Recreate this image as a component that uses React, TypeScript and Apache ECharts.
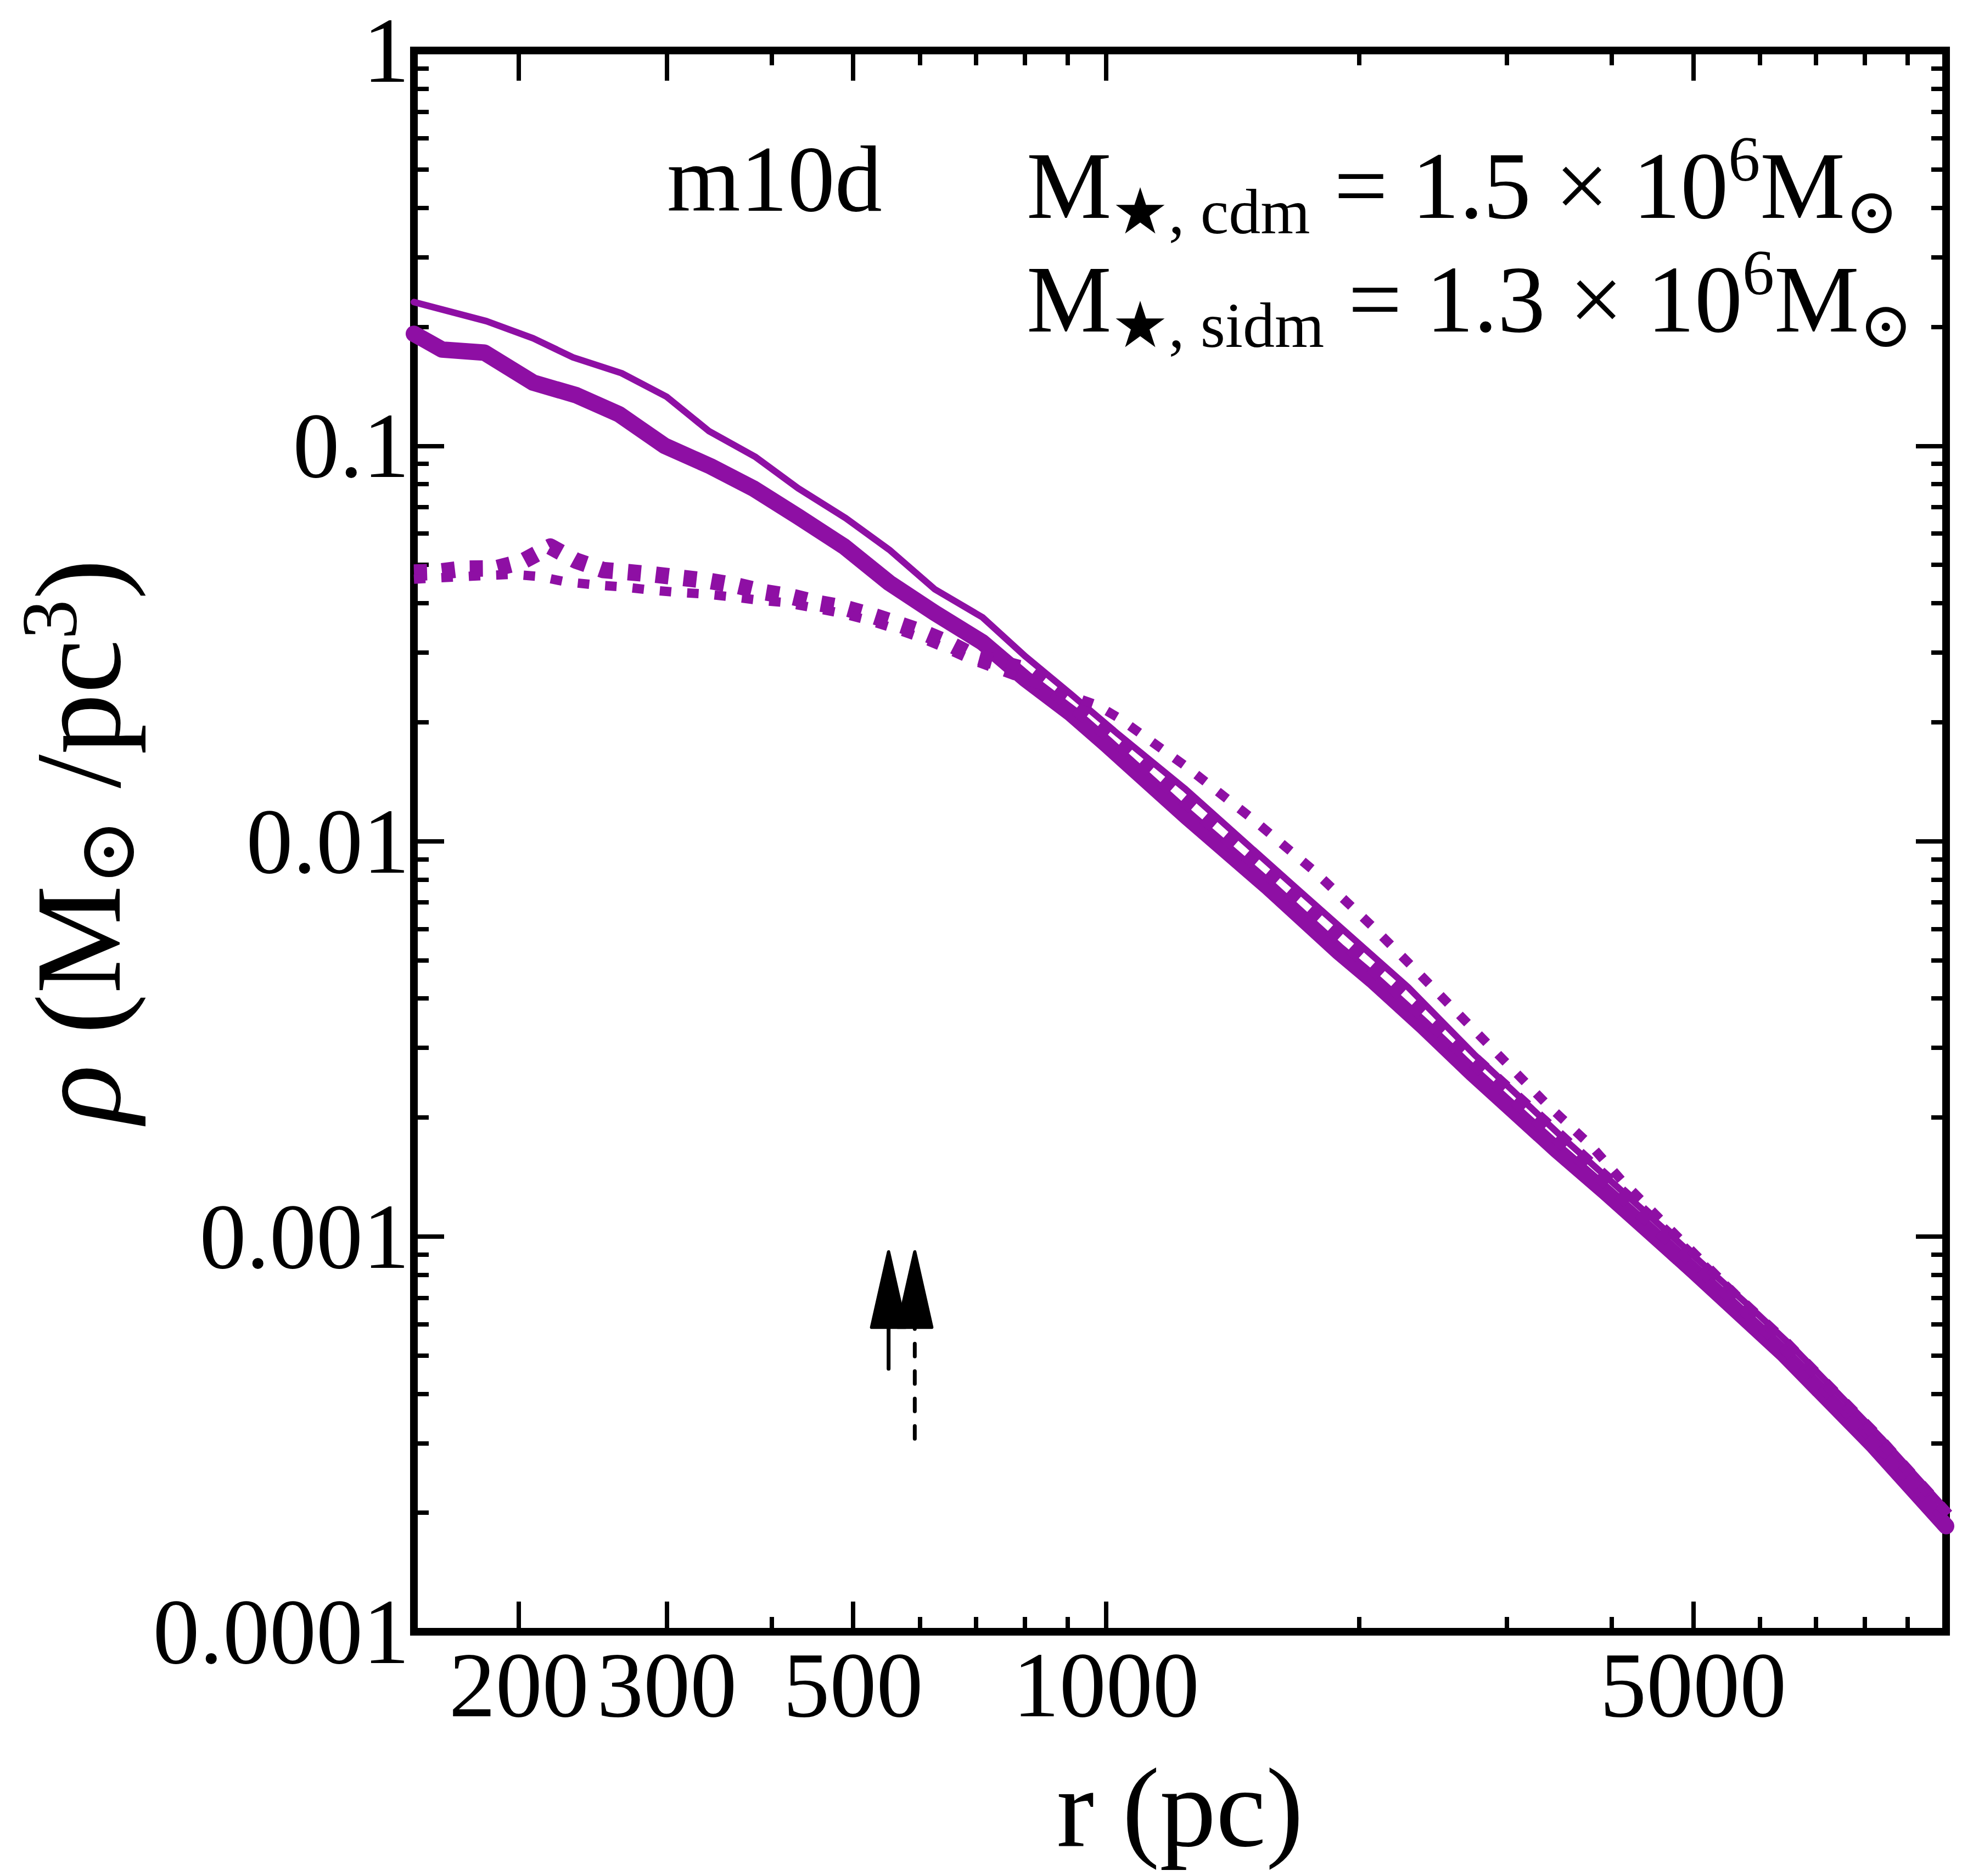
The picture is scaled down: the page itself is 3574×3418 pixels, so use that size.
import React, { useEffect, useRef } from "react";
import * as echarts from "echarts";

const PURPLE = "#8E0FA4";
const FONT = "'Liberation Serif', 'DejaVu Serif', serif";

// ---- data ----
// thin solid
const thinSolidR = [150, 183, 208, 232, 265, 300, 337, 382, 430, 490, 552, 625, 713, 802, 909, 1029, 1240, 1685, 2289, 2742, 3500, 4400, 5807, 6607, 8413, 10000];
const thinSolidRho = [0.231, 0.2067, 0.187, 0.1674, 0.1527, 0.133, 0.1088, 0.0939, 0.0781, 0.0656, 0.0546, 0.0434, 0.0368, 0.0293, 0.0235, 0.0188, 0.0136, 0.0076, 0.00427, 0.00289, 0.001775, 0.001145, 0.000672, 0.000519, 0.000306, 0.000204];
// thick solid
const thickSolidR = [150, 162, 182, 208, 234, 263, 298, 338, 380, 430, 488, 552, 625, 713, 802, 909, 1000, 1249, 1560, 1890, 2075, 2385, 2727, 3437, 3929, 4422, 5004, 6408, 8204, 10000];
const thickSolidRho = [0.192, 0.1752, 0.1721, 0.1445, 0.1343, 0.1203, 0.1001, 0.0888, 0.0781, 0.0662, 0.0556, 0.045, 0.0378, 0.0318, 0.0257, 0.021, 0.0176, 0.0115, 0.00764, 0.00526, 0.00445, 0.0034, 0.00259, 0.001657, 0.001296, 0.001036, 0.000818, 0.000504, 0.000295, 0.000185];
// thin dotted
const thinDotR = [150, 169, 183, 197, 212, 227, 246, 265, 286, 308, 332, 358, 386, 416, 449, 481, 519, 555, 599, 641, 687, 806, 975, 1039, 1245, 1484, 1764, 2073, 2307, 2698, 3333, 3785, 4117, 4855, 6000, 7500, 10000];
const thinDotRho = [0.046, 0.0466, 0.047, 0.0473, 0.0467, 0.0453, 0.0445, 0.044, 0.0432, 0.0426, 0.0422, 0.0415, 0.0407, 0.0401, 0.0389, 0.0378, 0.0363, 0.0347, 0.0328, 0.0309, 0.0289, 0.0255, 0.0221, 0.0204, 0.01545, 0.01151, 0.00845, 0.0061, 0.00485, 0.00345, 0.00218, 0.00169, 0.00138, 0.00097, 0.00062, 0.000385, 0.0002];
// thick dotted
const thickDotR = [150, 160, 172, 188, 202, 218, 234, 252, 270, 291, 314, 338, 365, 393, 423, 454, 489, 527, 564, 604, 647, 693, 813, 1055, 1385, 1700, 2075, 2727, 3437, 4422, 5004, 6408, 8204, 10000];
const thickDotRho = [0.0478, 0.048, 0.0489, 0.049, 0.051, 0.0556, 0.0512, 0.0485, 0.0479, 0.0472, 0.0463, 0.0455, 0.0442, 0.0426, 0.0415, 0.04, 0.0389, 0.0372, 0.0355, 0.0338, 0.0318, 0.0295, 0.0269, 0.0173, 0.0104, 0.0071, 0.00483, 0.00281, 0.0018, 0.00111, 0.00087, 0.000534, 0.000312, 0.000196];

// arrows
const arrowR = [551, 592];
const arrowTipRho = 0.000914;
const arrowHeadBaseRho = 0.000589;
const arrowTailRho = [0.000457, 0.000304];

// axes
const xMin = 150;
const xMax = 10000;
const yMin = 0.0001;
const yMax = 1;
const xMajorTicks = [200, 300, 500, 1000, 5000];
const xTickLabels = ["200", "300", "500", "1000", "5000"];
const xMinorTicks = [400, 600, 700, 800, 900, 2000, 3000, 4000, 6000, 7000, 8000, 9000];
const yMajorTicks = [0.0001, 0.001, 0.01, 0.1, 1];
const yTickLabels = ["0.0001", "0.001", "0.01", "0.1", "1"];
const yMinorTicks = [
  0.0002, 0.0003, 0.0004, 0.0005, 0.0006, 0.0007, 0.0008, 0.0009,
  0.002, 0.003, 0.004, 0.005, 0.006, 0.007, 0.008, 0.009,
  0.02, 0.03, 0.04, 0.05, 0.06, 0.07, 0.08, 0.09,
  0.2, 0.3, 0.4, 0.5, 0.6, 0.7, 0.8, 0.9,
];

const galaxyName = "m10d";
const massLineCdm = "{m|M}{s|★, cdm}{m| = 1.5 × 10}{p|6}{m|M}{s|⊙}";
const massLineSidm = "{m|M}{s|★, sidm}{m| = 1.3 × 10}{p|6}{m|M}{s|⊙}";

const lg = Math.log10;

function labelFor(v: number, ticks: number[], labels: string[]) {
  for (let i = 0; i < ticks.length; i++) {
    if (Math.abs(lg(ticks[i]) - v) < 1e-6) return labels[i];
  }
  return "";
}

function zip(xs: number[], ys: number[]) {
  return xs.map((x, i) => [x, ys[i]]);
}

const massRich = {
  m: { fontFamily: FONT, fontSize: 174, fill: "#000", lineHeight: 212 },
  s: { fontFamily: FONT, fontSize: 116, fill: "#000", lineHeight: 112, verticalAlign: "bottom" },
  p: { fontFamily: FONT, fontSize: 116, fill: "#000", lineHeight: 116, verticalAlign: "top" },
};

export default function App() {
  const ref = useRef<HTMLDivElement>(null);
  useEffect(() => {
    document.body.style.margin = "0";
    const chart = echarts.init(ref.current!, null, { renderer: "svg" });

    const mkX = (position: string, ticks: number[], len: number, labels: boolean) => ({
      type: "value",
      min: lg(xMin),
      max: lg(xMax),
      position,
      axisLine: { show: false, onZero: false },
      splitLine: { show: false },
      axisTick: {
        show: true,
        inside: true,
        length: len,
        lineStyle: { color: "#000", width: 8 },
        customValues: ticks.map(lg),
      },
      axisLabel: labels
        ? {
            show: true,
            customValues: ticks.map(lg),
            formatter: (v: number) => labelFor(v, xMajorTicks, xTickLabels),
            fontFamily: FONT,
            fontSize: 170,
            color: "#000",
            margin: 12,
          }
        : { show: false },
      ...(labels
        ? {
            name: "r (pc)",
            nameLocation: "middle",
            nameGap: 218,
            nameTextStyle: { fontFamily: FONT, fontSize: 205, color: "#000" },
          }
        : {}),
    });

    const mkY = (position: string, ticks: number[], len: number, labels: boolean) => ({
      type: "value",
      min: lg(yMin),
      max: lg(yMax),
      position,
      axisLine: { show: false, onZero: false },
      splitLine: { show: false },
      axisTick: {
        show: true,
        inside: true,
        length: len,
        lineStyle: { color: "#000", width: 8 },
        customValues: ticks.map(lg),
      },
      axisLabel: labels
        ? {
            show: true,
            customValues: ticks.map(lg),
            formatter: (v: number) => labelFor(v, yMajorTicks, yTickLabels),
            fontFamily: FONT,
            fontSize: 170,
            lineHeight: 140,
            color: "#000",
            margin: 8,
            padding: [20, 0, 0, 0],
          }
        : { show: false },
      ...(labels
        ? {
            name: "{i|ρ} (M{s|⊙} /pc{p|3})",
            nameLocation: "middle",
            nameGap: 452,
            nameTextStyle: {
              fontFamily: FONT,
              fontSize: 222,
              color: "#000",
              lineHeight: 250,
              rich: {
                i: { fontFamily: FONT, fontSize: 222, fontStyle: "italic", color: "#000", lineHeight: 250 },
                s: { fontFamily: FONT, fontSize: 145, color: "#000", verticalAlign: "bottom", lineHeight: 140 },
                p: { fontFamily: FONT, fontSize: 145, color: "#000", verticalAlign: "top", lineHeight: 145 },
              },
            },
          }
        : {}),
    });

    const lineSeries = (
      r: number[],
      rho: number[],
      width: number,
      type: any,
      z: number,
      cap = "butt"
    ) => ({
      type: "line",
      xAxisIndex: 0,
      yAxisIndex: 0,
      data: zip(r, rho),
      showSymbol: false,
      symbol: "none",
      smooth: false,
      silent: true,
      z,
      lineStyle: { color: PURPLE, width, type, cap, join: "round" },
    });

    const option: any = {
      animation: false,
      backgroundColor: "#fff",
      grid: {
        left: 754,
        right: 29,
        top: 92,
        bottom: 445,
        show: true,
        borderColor: "#000",
        borderWidth: 14,
        backgroundColor: "transparent",
        containLabel: false,
        outerBoundsMode: "none",
      },
      xAxis: [
        { type: "log", logBase: 10, min: xMin, max: xMax, show: false },
        mkX("bottom", xMajorTicks, 55, true),
        mkX("bottom", xMinorTicks, 27, false),
        mkX("top", xMajorTicks, 55, false),
        mkX("top", xMinorTicks, 27, false),
      ],
      yAxis: [
        { type: "log", logBase: 10, min: yMin, max: yMax, show: false },
        mkY("left", yMajorTicks, 55, true),
        mkY("left", yMinorTicks, 27, false),
        mkY("right", yMajorTicks, 55, false),
        mkY("right", yMinorTicks, 27, false),
      ],
      series: [
        lineSeries(thickSolidR, thickSolidRho, 30, "solid", 2, "round"),
        lineSeries(thinSolidR, thinSolidRho, 12, "solid", 3, "round"),
        lineSeries(thickDotR, thickDotRho, 30, [24, 27], 4),
        lineSeries(thinDotR, thinDotRho, 17, [21, 29], 5),
        {
          type: "custom",
          xAxisIndex: 0,
          yAxisIndex: 0,
          coordinateSystem: "cartesian2d",
          z: 10,
          silent: true,
          data: arrowR.map((r) => [r, arrowTipRho]),
          renderItem: (params: any, api: any) => {
            const i = params.dataIndex;
            const r = api.value(0);
            const tip = api.coord([r, arrowTipRho]);
            const base = api.coord([r, arrowHeadBaseRho]);
            const tail = api.coord([r, arrowTailRho[i]]);
            return {
              type: "group",
              children: [
                {
                  type: "line",
                  shape: { x1: tail[0], y1: tail[1] - 4, x2: base[0], y2: base[1] },
                  style: {
                    stroke: "#000",
                    lineWidth: 7,
                    lineCap: "round",
                    lineDash: i === 1 ? [23, 27] : null,
                  },
                },
                {
                  type: "polygon",
                  shape: {
                    points: [
                      [tip[0], tip[1]],
                      [tip[0] - 31, base[1]],
                      [tip[0] + 31, base[1]],
                    ],
                  },
                  style: { fill: "#000", stroke: "#000", lineWidth: 6, lineJoin: "round" },
                },
              ],
            };
          },
        },
      ],
      graphic: [
        {
          type: "text",
          x: 1215,
          y: 326,
          style: {
            text: galaxyName,
            fontFamily: FONT,
            fontSize: 172,
            fill: "#000",
            align: "left",
            verticalAlign: "middle",
          },
        },
        {
          type: "text",
          x: 1870,
          y: 338,
          style: {
            text: massLineCdm,
            fill: "#000",
            align: "left",
            verticalAlign: "middle",
            rich: massRich,
          },
        },
        {
          type: "text",
          x: 1870,
          y: 545,
          style: {
            text: massLineSidm,
            fill: "#000",
            align: "left",
            verticalAlign: "middle",
            rich: massRich,
          },
        },
      ],
    };

    chart.setOption(option);
    return () => chart.dispose();
  }, []);
  return <div ref={ref} style={{ width: 3574, height: 3418 }} />;
}
